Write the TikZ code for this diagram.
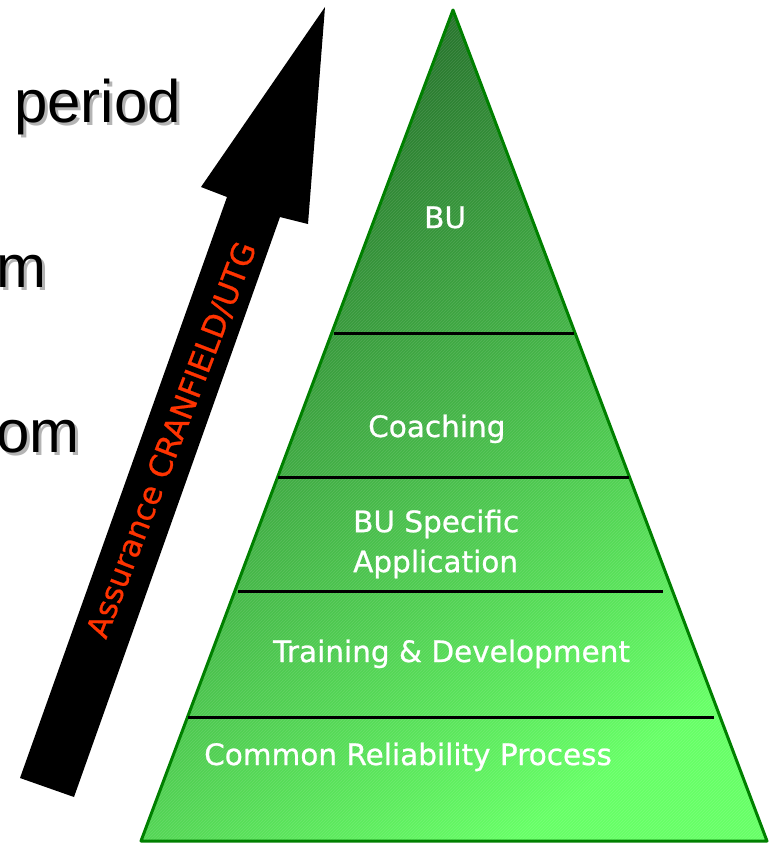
\documentclass[tikz,border=0pt]{standalone}
\usepackage{fontspec}
\setmainfont{DejaVu Sans}
\newfontfamily\slidefont{Liberation Sans}
\newfontfamily\pyfont[FakeBold=0.8]{DejaVu Sans}
\usetikzlibrary{patterns}
\definecolor{pydark}{RGB}{36,110,42}
\definecolor{pylight}{RGB}{102,255,102}
\definecolor{pyedge}{RGB}{0,128,0}
\definecolor{asred}{RGB}{255,51,0}
\definecolor{shadowgray}{RGB}{180,180,180}
\newcommand{\shadowword}[1]{\rlap{\hspace{3pt}\raisebox{-3pt}{\color{shadowgray}#1}}#1}
\tikzset{
  pylabel/.style={text=white, inner sep=0pt, align=left, font=\pyfont\fontsize{29.5}{40}\selectfont},
  pyrule/.style={draw=black, line width=3pt},
  pyface/.style={top color=pydark, bottom color=pylight, shading angle=35},
  slidetext/.style={inner sep=0pt, anchor=base east, font=\slidefont\fontsize{60}{62}\selectfont},
  assurance/.style={text=asred, inner sep=0pt, font=\pyfont\fontsize{31}{33}\selectfont}
}

\begin{document}
\begin{tikzpicture}[x=1pt, y=-1pt]
  \clip (0,0) rectangle (770,843);
  % cut-off slide text on the left
  \foreach \word/\xr/\yb in {period/181/122, m/47/287, om/80/452} {
    \node[slidetext] (w-\word) at (\xr,\yb) {\shadowword{\word}};
  }
  % pyramid
  \coordinate (apex) at (453,10);
  \coordinate (baseL) at (141,841);
  \coordinate (baseR) at (767,841);
  \shade[pyface] (apex) -- (baseR) -- (baseL) -- cycle;
  \fill[pattern=north east lines, pattern color=white, opacity=.12] (apex) -- (baseR) -- (baseL) -- cycle;
  \draw[pyedge, line width=3pt, line join=round] (apex) -- (baseR) -- (baseL) -- cycle;
  \draw[pyrule] (334,333) -- (574,333);
  \draw[pyrule] (278,477) -- (629,477);
  \draw[pyrule] (238,591) -- (663,591);
  \draw[pyrule] (188,717) -- (714,717);
  \node[pylabel, anchor=base west] (bu) at (424,228) {BU};
  \node[pylabel, anchor=base west] (coach) at (368,437) {Coaching};
  \node[pylabel, anchor=west] (buspec) at (353,544) {BU Specific\\Application};
  \node[pylabel, anchor=base west] (train) at (273,662) {Training \& Development};
  \node[pylabel, anchor=base west] (crp) at (204,765) {Common Reliability Process};
  % assurance arrow
  \fill[black] (20,778) -- (227,197) -- (201,187) -- (325,7) -- (308,224) -- (280,217) -- (74,797) -- cycle;
  \node[assurance, rotate=69] (assur) at (172,440) {Assurance CRANFIELD/UTG};
\end{tikzpicture}
\end{document}
